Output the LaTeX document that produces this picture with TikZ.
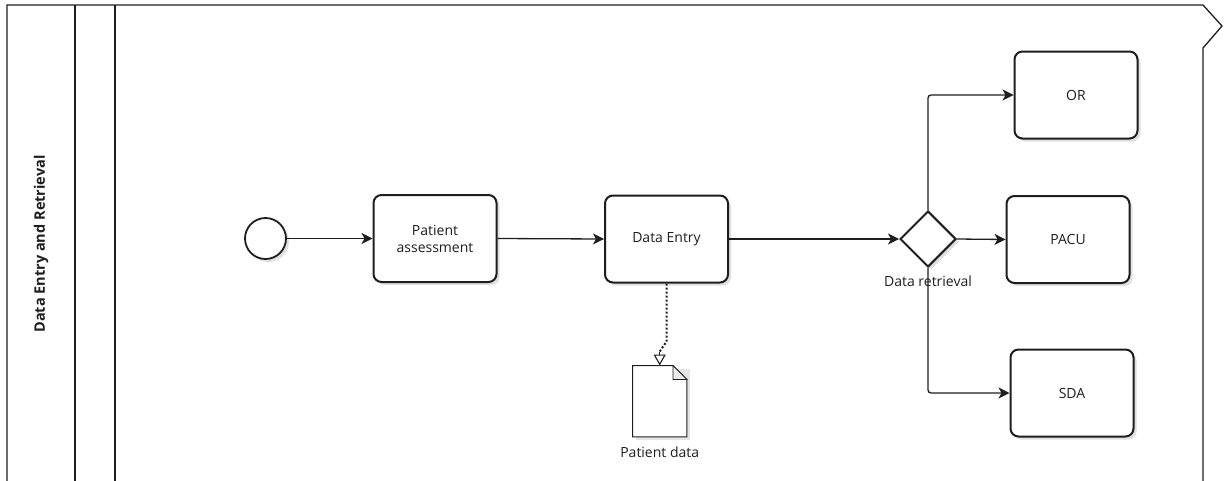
\documentclass[tikz,border=0pt]{standalone}
\usepackage{fontspec}
\setmainfont{Open Sans}
\usetikzlibrary{arrows.meta,shapes.geometric,shadows}
\definecolor{ink}{HTML}{1E1E1E}
\tikzset{
  soft/.style={drop shadow={shadow xshift=3pt,shadow yshift=-3pt,opacity=0.12,fill=black}},
  task/.style={draw=ink,line width=2pt,rounded corners=8pt,fill=white,
    minimum width=123pt,minimum height=87pt,align=center,text=ink,
    font=\fontsize{14}{17}\selectfont,soft},
  startev/.style={circle,draw=ink,line width=1.8pt,fill=white,minimum size=41pt,inner sep=0pt,soft},
  gateway/.style={diamond,draw=ink,line width=2pt,fill=white,minimum width=56pt,minimum height=56pt,inner sep=0pt,aspect=1,soft},
  flow/.style={draw=ink,line width=1.3pt,-{Stealth[length=11pt,width=11pt,inset=3pt]}},
  assoc/.style={draw=ink,line width=2pt,dash pattern=on 2pt off 2pt},
  assoctip/.style={draw=ink,solid,line width=1.1pt,-{Triangle[open,length=11pt,width=12pt,fill=white]}},
  lbl/.style={text=ink,font=\fontsize{14}{17}\selectfont,inner sep=0pt},
  frame/.style={draw=ink,line width=1.3pt}
}
\begin{document}
\begin{tikzpicture}[x=1pt,y=-1pt]
\useasboundingbox (0,0) rectangle (1224,480);

% pool and lane outline
\draw[frame] (7,482) -- (7,5) -- (1203,5) -- (1222,26) -- (1203,48) -- (1203,482);
\draw[frame] (75,5) -- (75,482);
\draw[frame] (115,5) -- (115,482);
\node[rotate=90,text=ink,font=\bfseries\fontsize{14.5}{17}\selectfont] (lane) at (41,244) {Data Entry and Retrieval};

% flow elements
\node[startev] (start) at (265.5,238.5) {};
\node[task] (pa) at (435,238.5) {Patient\\assessment};
\node[task] (de) at (666.5,239) {Data Entry};
\node[gateway] (gw) at (928,239) {};
\node[task] (or) at (1076,95) {OR};
\node[task] (pacu) at (1068,239.5) {PACU};
\node[task] (sda) at (1072,393) {SDA};

% data object with folded corner
\node[minimum width=54pt,minimum height=71pt,inner sep=0pt] (doc) at (659.7,401.2) {};
\fill[black,opacity=0.10] ([xshift=3pt,yshift=-3pt]doc.south west) rectangle ([xshift=3pt,yshift=-3pt]doc.north east);
\draw[ink,line width=1pt,fill=white,line join=miter]
  (doc.south west) -- (doc.north west) -- ([xshift=-14pt]doc.north east)
  -- ([yshift=-14pt]doc.north east) -- (doc.south east) -- cycle;
\draw[ink,line width=0.8pt,fill=black!8]
  ([xshift=-14pt]doc.north east) -- ([xshift=-14pt,yshift=-14pt]doc.north east) -- ([yshift=-14pt]doc.north east) -- cycle;
\node[lbl,anchor=north] (doclbl) at ([yshift=-10pt]doc.south) {Patient data};

% gateway label
\node[lbl,anchor=north] (gwlbl) at ([yshift=-8pt]gw.south) {Data retrieval};

% sequence flows
\draw[flow] (start.east) -- (pa.west);
\draw[flow] (pa.east) -- (de.west);
\draw[flow] (de.east) -- (gw.west);
\draw[flow] (gw.east) -- (pacu.west);
\draw[flow,rounded corners=3pt] (gw.north) |- (or.west);
\draw[flow,rounded corners=3pt] (gw.south) |- (sda.west);

% association to the data object
\coordinate (bend) at ([yshift=14pt]doc.north);
\draw[assoc] (de.south) -- ++(0,58) -- (bend);
\draw[assoctip] (bend) -- (doc.north);
\end{tikzpicture}
\end{document}
